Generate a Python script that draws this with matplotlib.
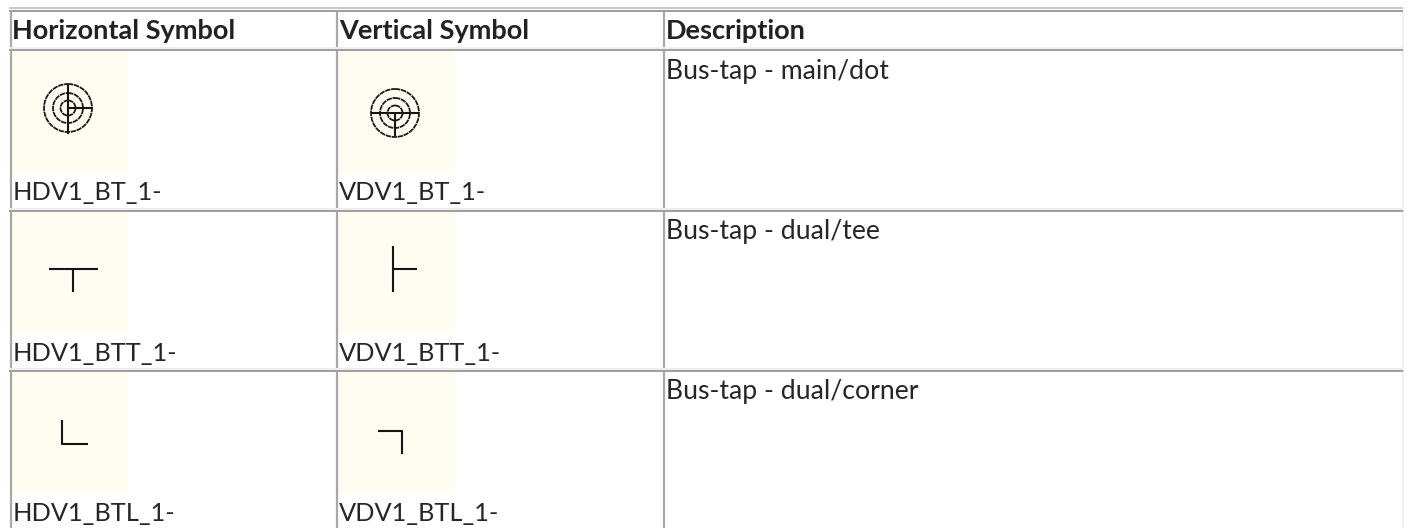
import matplotlib
matplotlib.use("Agg")
import matplotlib.pyplot as plt
from matplotlib.patches import Rectangle, Circle

headers = ["Horizontal Symbol", "Vertical Symbol", "Description"]
header_x = [12.5, 339, 666]
h_labels = ["HDV1_BT_1-", "HDV1_BTT_1-", "HDV1_BTL_1-"]
v_labels = ["VDV1_BT_1-", "VDV1_BTT_1-", "VDV1_BTL_1-"]
descriptions = ["Bus-tap - main/dot", "Bus-tap - dual/tee", "Bus-tap - dual/corner"]
label_base = [200.5, 361, 521]
desc_base = [79.5, 239.5, 399.5]
swatch_top = [51, 211, 372]
swatch_bottom = [173, 333, 493]
swatch_x = [(12, 128), (338, 455)]
row_lines = [50, 210.5, 370.5]
col_lines = [11, 337, 664]
radii = [24, 15, 7.5]
circle_centers = [(68, 108), (395, 113)]
symbol_segments = [
    [(68, 85), (68, 134)], [(68, 108), (93, 108)],
    [(371, 113), (419, 113)], [(395, 113), (395, 136)],
    [(49, 269), (98, 269)], [(72.5, 269), (72.5, 292)],
    [(393.3, 246), (393.3, 292)], [(393.3, 269), (416.5, 269)],
    [(62, 420), (62, 444), (88, 444)],
    [(378, 431), (402, 431), (402, 454)],
]

W, H = 1408, 528
fig = plt.figure(figsize=(W / 100, H / 100), dpi=100, facecolor="white")
ax = fig.add_axes([0, 0, 1, 1])
ax.set_xlim(0, W)
ax.set_ylim(H, 0)
ax.axis("off")
px = 0.72

for (x0, x1) in swatch_x:
    for t, b in zip(swatch_top, swatch_bottom):
        ax.add_patch(Rectangle((x0, t), x1 - x0, b - t, fc="#fffcf2", ec="none", zorder=1))

ax.plot([9, 1403], [8, 8], color="#c8c8c8", lw=2 * px, zorder=2, solid_capstyle="butt")
ax.plot([9, 1403], [10.5, 10.5], color="#a0a0a0", lw=2 * px, zorder=5, solid_capstyle="butt")
for y in row_lines:
    ax.plot([9, 1403], [y, y], color="#a0a0a0", lw=2 * px, zorder=5, solid_capstyle="butt")
    ax.plot([9, 1403], [y - 2, y - 2], color="#efefef", lw=2 * px, zorder=4, solid_capstyle="butt")
for x in col_lines:
    ax.plot([x, x], [10, H], color="#a8a8a8", lw=2.2 * px, zorder=3, solid_capstyle="butt")
ax.plot([1402.5, 1402.5], [11, H], color="#efefef", lw=2 * px, zorder=2, solid_capstyle="butt")

for c in circle_centers:
    for r in radii:
        ax.add_patch(Circle(c, r, fc="none", ec="#1a1a1a", lw=1.8 * px, ls=(0, (3, 0.4)), zorder=6))
for seg in symbol_segments:
    ax.plot([p[0] for p in seg], [p[1] for p in seg], color="#151515", lw=2.1 * px,
            solid_capstyle="butt", zorder=6)

for x, s in zip(header_x, headers):
    ax.text(x, 39, s, fontfamily="Lato", fontweight="bold", fontsize=19.5, color="#222222", va="baseline")
for i in range(3):
    ax.text(12.5, label_base[i], h_labels[i], fontfamily="Lato", fontsize=18.3, color="#262626", va="baseline")
    ax.text(339, label_base[i], v_labels[i], fontfamily="Lato", fontsize=18.3, color="#262626", va="baseline")
    ax.text(666, desc_base[i], descriptions[i], fontfamily="Lato", fontsize=19.2, color="#262626", va="baseline")

fig.savefig("out.png", dpi=100)
